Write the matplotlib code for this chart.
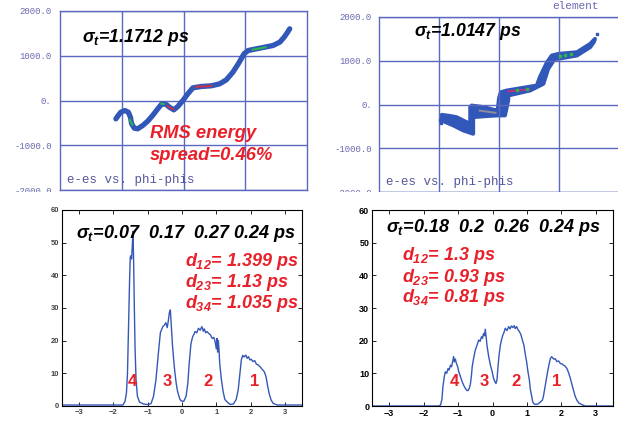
import matplotlib
matplotlib.use("Agg")
import matplotlib.pyplot as plt
from matplotlib.patches import Rectangle

plt.rcParams["mathtext.fontset"] = "custom"
plt.rcParams["mathtext.rm"] = "Liberation Sans:italic:bold"
plt.rcParams["mathtext.it"] = "Liberation Sans:italic:bold"
plt.rcParams["mathtext.bf"] = "Liberation Sans:italic:bold"

W, H = 618, 422

# --- top left: energy vs phase (sigma_t = 1.1712 ps)
tl_x = [-1.095, -1.057, -1.014, -0.95, -0.894, -0.86, -0.84, -0.797, -0.743, -0.66, -0.58, -0.5,
        -0.417, -0.35, -0.28, -0.228, -0.157, -0.092, -0.01, 0.07, 0.152, 0.287, 0.45, 0.585,
        0.694, 0.8, 0.894, 0.98, 1.046, 1.18, 1.317, 1.45, 1.56, 1.63, 1.686, 1.72]
tl_y = [-410, -335, -260, -224, -260, -372, -521, -618, -633, -559, -462, -335,
        -186, -75, -89, -149, -209, -134, 0, 149, 283, 313, 328, 372,
        462, 633, 834, 1043, 1117, 1155, 1192, 1229, 1304, 1415, 1527, 1602]
tl_green = [([-0.87, -0.83], [-430, -540]), ([-0.36, -0.32], [-70, -80]), ([1.12, 1.33], [1135, 1190])]
tl_red = [([0.2, 0.45], [305, 326]), ([-0.26, -0.17], [-130, -195])]

# --- top right: energy vs phase (sigma_t = 1.0147 ps), outline of the band
tr_upper = [(-0.97, -300), (-0.955, -236), (-0.82, -260), (-0.705, -290), (-0.54, -404), (-0.48, -420),
            (-0.48, -61), (-0.455, -23), (-0.25, -60), (-0.04, -137), (-0.02, -100), (0.0, 150),
            (0.03, 282), (0.128, 320), (0.46, 396), (0.63, 434), (0.68, 624), (0.8, 967),
            (0.88, 1120), (0.99, 1158), (1.3, 1196), (1.52, 1387), (1.6, 1501)]
tr_lower = [(1.58, 1425), (1.52, 1310), (1.3, 1120), (0.99, 1044), (0.93, 1044), (0.82, 815),
            (0.74, 472), (0.63, 396), (0.52, 320), (0.155, 205), (0.155, 100), (0.10, -250),
            (-0.04, -251), (-0.25, -270), (-0.43, -290), (-0.43, -670), (-0.595, -594),
            (-0.76, -480), (-0.955, -366)]
tr_dots_x = [1.63, -0.98, -0.96]
tr_dots_y = [1600, -360, -420]
tr_red = ([0.15, 0.5], [300, 345])
tr_grey = ([-0.32, -0.06], [-140, -190])
tr_green = ([0.3, 0.46, 1.02, 1.1, 1.2], [325, 350, 1100, 1125, 1150])

yt_vals = [2000, 1000, 0, -1000, -2000]
yt_text = ["2000.0", "1000.0", "0.", "-1000.0", "-2000.0"]

# --- bottom: longitudinal profiles
bl_x = [-3.5, -1.72, -1.66, -1.62, -1.59, -1.56, -1.53, -1.51, -1.49, -1.47, -1.45, -1.43, -1.41,
        -1.39, -1.37, -1.34, -1.30, -1.24, -1.12, -0.98, -0.90, -0.83, -0.76, -0.70, -0.63, -0.59,
        -0.56, -0.51, -0.47, -0.43, -0.40, -0.37, -0.34, -0.31, -0.28, -0.25, -0.21, -0.17, -0.13,
        -0.07, -0.03, 0.05, 0.12, 0.17, 0.21, 0.26, 0.31, 0.35, 0.38, 0.43, 0.48, 0.53, 0.58, 0.62,
        0.65, 0.69, 0.73, 0.78, 0.83, 0.88, 0.93, 0.97, 1.0, 1.02, 1.04, 1.06, 1.08, 1.10, 1.15,
        1.20, 1.25, 1.32, 1.40, 1.50, 1.58, 1.64, 1.69, 1.73, 1.77, 1.81, 1.86, 1.90, 1.94, 1.98,
        2.02, 2.07, 2.12, 2.17, 2.22, 2.28, 2.34, 2.40, 2.45, 2.50, 2.55, 2.60, 2.66, 2.78, 3.0, 3.5]
bl_y = [0.3, 0.3, 1.5, 4, 10, 24, 38, 45.5, 46, 45, 49, 53.5, 44,
        30, 18, 8, 3, 1.2, 0.6, 0.4, 0.8, 3, 8, 15, 22.5, 23.5,
        24.3, 24.8, 25.5, 24, 26, 28.5, 29.4, 24.3, 19, 15, 10.5, 7, 4.5,
        2.3, 1.6, 1.4, 3, 7, 13, 19, 21.2, 22, 22.8, 22.4, 23.8, 23.2, 24.3, 22.9,
        23.6, 22.4, 22.8, 22.2, 21.8, 20.7, 21, 19.5, 17.5, 20.7, 16.5, 20, 17.1, 13, 8,
        4.4, 2, 1.2, 0.5, 0.6, 2, 5, 10, 14.1, 15.5, 15, 15.6, 14.6, 15.1, 14.1,
        14.3, 13.6, 13.9, 12.8, 12.6, 12, 11.2, 10.5, 9, 6, 3.5, 1.8, 0.8, 0.3, 0.3, 0.3]

br_x = [-3.5, -1.56, -1.51, -1.47, -1.44, -1.40, -1.37, -1.33, -1.29, -1.26, -1.22, -1.19, -1.15,
        -1.13, -1.11, -1.08, -1.05, -1.01, -0.98, -0.93, -0.88, -0.83, -0.79, -0.75, -0.71, -0.67,
        -0.64, -0.61, -0.59, -0.55, -0.50, -0.45, -0.40, -0.36, -0.32, -0.29, -0.26, -0.23, -0.21,
        -0.18, -0.16, -0.11, -0.06, -0.01, 0.03, 0.07, 0.10, 0.13, 0.16, 0.19, 0.23, 0.26, 0.30,
        0.33, 0.37, 0.42, 0.47, 0.51, 0.55, 0.59, 0.63, 0.66, 0.70, 0.74, 0.78, 0.82, 0.86, 0.91,
        0.95, 0.99, 1.03, 1.07, 1.10, 1.14, 1.17, 1.21, 1.26, 1.32, 1.39, 1.45, 1.48, 1.52, 1.56,
        1.61, 1.65, 1.68, 1.72, 1.75, 1.79, 1.82, 1.87, 1.92, 1.97, 2.02, 2.06, 2.11, 2.16, 2.21,
        2.26, 2.31, 2.35, 2.40, 2.45, 2.51, 2.58, 2.69, 3.5]
br_y = [0, 0, 0.3, 2, 5.9, 9, 10.5, 10, 11.5, 11, 12.5, 12, 14, 15.1, 13.5, 14.4, 13.1,
        12, 10.5, 9, 7.4, 6.2, 5.4, 4.8, 4.7, 5.5, 6.9, 9.5, 12, 14.5, 17.1, 18.6, 20.2, 19.8,
        21.2, 20.7, 22.2, 21.5, 23.5, 20.7, 18.5, 15.1, 12.5, 10.5, 8.5, 7.4, 6.9, 8, 12, 15.5,
        18.7, 20.2, 21.7, 22.4, 23.8, 23.1, 24.3, 23.6, 24.5, 24, 24.6, 23.7, 24.3, 23.4, 22.8,
        22, 20.5, 18.7, 16, 13.6, 10.5, 8, 5, 2.9, 1.2, 0.6, 0.5, 0.6, 1.2, 1.8, 3, 5.5, 8,
        11, 13.1, 14.5, 15.1, 14.7, 14.3, 14.5, 13.6, 13.8, 13, 12.9, 12.5, 12.2, 11.5, 10.2,
        8.5, 6.5, 4.9, 3, 1.8, 0.9, 0.5, 0, 0]

BLUE = "#3157b8"
GRIDC = "#5b68c0"
LABC = "#6a6ab0"
RED = "#e8202a"


def rect(left, top, right, bottom):
    return [left / W, 1 - bottom / H, (right - left) / W, (bottom - top) / H]


def fx(x):
    return x / W


def fy(y):
    return 1 - y / H


def style_phase_axes(ax, pad):
    ax.set_xlim(-2, 2)
    ax.set_ylim(-2000, 2000)
    ax.set_xticks([-1, 0, 1])
    ax.set_xticklabels([])
    ax.set_yticks(yt_vals)
    ax.set_yticklabels(yt_text, family="Liberation Mono", fontsize=6.5, color=LABC)
    ax.tick_params(length=0, pad=pad)
    ax.grid(True, color=GRIDC, linewidth=1.0)
    for s in ax.spines.values():
        s.set_color(GRIDC)
        s.set_linewidth(1.0)


def style_profile_axes(ax, fsize, weight, color):
    ax.set_xlim(-3.5, 3.5)
    ax.set_ylim(0, 60)
    ax.set_xticks([-3, -2, -1, 0, 1, 2, 3])
    ax.set_yticks([0, 10, 20, 30, 40, 50, 60])
    ax.tick_params(direction="in", top=True, right=True, length=3, width=0.6, pad=2,
                   labelsize=fsize, labelcolor=color)
    for lab in ax.get_xticklabels() + ax.get_yticklabels():
        lab.set_fontweight(weight)
        lab.set_family("Liberation Sans")
    for s in ax.spines.values():
        s.set_linewidth(0.8)


fig = plt.figure(figsize=(W / 100, H / 100), dpi=100)

ax1 = fig.add_axes(rect(60, 11, 307, 190))
style_phase_axes(ax1, 6)
ax1.plot(tl_x, tl_y, "-", color=BLUE, linewidth=3.8, solid_capstyle="round", solid_joinstyle="round")
for gx, gy in tl_green:
    ax1.plot(gx, gy, color="#2db84a", linewidth=1.4)
for rx, ry in tl_red:
    ax1.plot(rx, ry, color="#d0304a", linewidth=1.4)
ax1.text(0.03, 0.04, "e-es vs. phi-phis", transform=ax1.transAxes, family="Liberation Mono",
         fontsize=9, color="#55559a")

ax2 = fig.add_axes(rect(379, 17, 619, 192))
style_phase_axes(ax2, 5)
poly = tr_upper + tr_lower
ax2.fill([p[0] for p in poly], [p[1] for p in poly], facecolor=BLUE, edgecolor=BLUE,
         linewidth=2.8, joinstyle="round")
ax2.plot(tr_dots_x, tr_dots_y, "s", color=BLUE, markersize=2)
ax2.plot(tr_grey[0], tr_grey[1], color="#8a8aa0", linewidth=1.5)
ax2.plot(tr_red[0], tr_red[1], color="#b0308a", linewidth=1.6)
ax2.plot(tr_green[0], tr_green[1], "s", color="#2db84a", markersize=1.8)
ax2.text(0.03, 0.04, "e-es vs. phi-phis", transform=ax2.transAxes, family="Liberation Mono",
         fontsize=9, color="#55559a")
fig.text(fx(552), fy(6), "element", family="Liberation Mono", fontsize=8, color=LABC, va="center")

ax3 = fig.add_axes(rect(62, 210, 302, 406))
style_profile_axes(ax3, 5.5, "bold", "#444444")
ax3.plot(bl_x, bl_y, color="#3558b8", linewidth=1.0)

ax4 = fig.add_axes(rect(372, 210, 613, 406))
style_profile_axes(ax4, 6.5, "bold", "black")
ax4.plot(br_x, br_y, color="#3558b8", linewidth=1.0)

# the top panels are cropped just under their lower frame
fig.patches.append(Rectangle((0, fy(200)), 1, (200 - 192) / H, transform=fig.transFigure,
                             facecolor="white", edgecolor="none", zorder=5))

tkw = dict(family="Liberation Sans", fontweight="bold", style="italic", va="center")
fig.text(fx(82), fy(37), r"$\sigma_t$=1.1712 ps", fontsize=12.7, color="black", **tkw)
fig.text(fx(414), fy(31), r"$\sigma_t$=1.0147 ps", fontsize=12.7, color="black", **tkw)
fig.text(fx(150), fy(133), "RMS energy", fontsize=13.2, color=RED, **tkw)
fig.text(fx(150), fy(155), "spread=0.46%", fontsize=13.2, color=RED, **tkw)

fig.text(fx(76), fy(233), r"$\sigma_t$=0.07  0.17  0.27 0.24 ps", fontsize=13, color="black", **tkw)
for i, s in enumerate([r"$d_{12}$= 1.399 ps", r"$d_{23}$= 1.13 ps", r"$d_{34}$= 1.035 ps"]):
    fig.text(fx(185), fy(261 + 21.5 * i), s, fontsize=13, color=RED, **tkw)

fig.text(fx(386), fy(228), r"$\sigma_t$=0.18  0.2  0.26  0.24 ps", fontsize=13, color="black", **tkw)
for i, s in enumerate([r"$d_{12}$= 1.3 ps", r"$d_{23}$= 0.93 ps", r"$d_{34}$= 0.81 ps"]):
    fig.text(fx(402), fy(256 + 21 * i), s, fontsize=13, color=RED, **tkw)

nkw = dict(family="Liberation Sans", fontweight="bold", fontsize=12, color=RED, ha="center", va="center")
for lab, xx in zip(["4", "3", "2", "1"], [-1.45, -0.43, 0.76, 2.12]):
    ax3.text(xx, 7.6, lab, **nkw)
for lab, xx in zip(["4", "3", "2", "1"], [-1.11, -0.25, 0.67, 1.86]):
    ax4.text(xx, 7.6, lab, **nkw)

fig.savefig("out.png", dpi=100)
